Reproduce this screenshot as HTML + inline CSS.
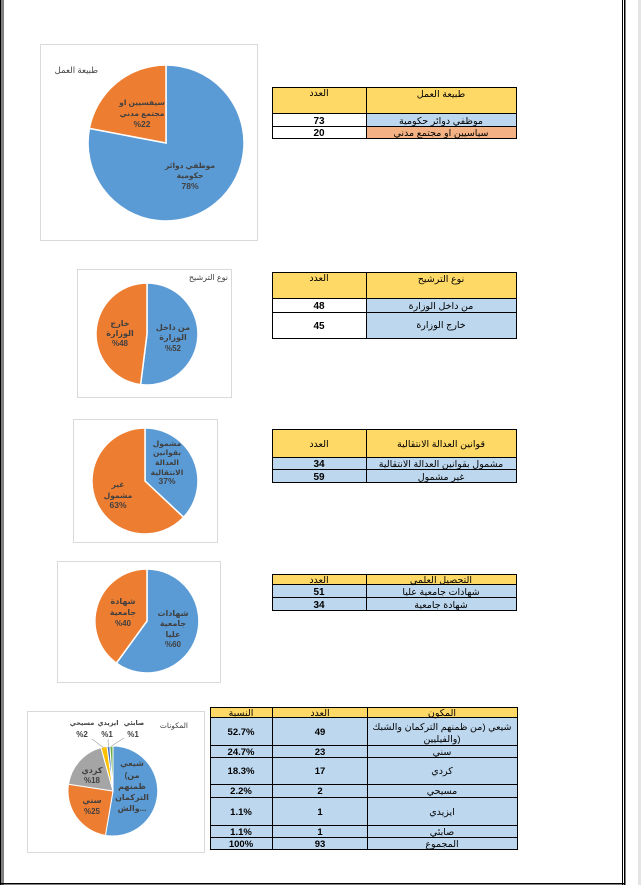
<!DOCTYPE html>
<html><head><meta charset="utf-8">
<style>
html,body{margin:0;padding:0;background:#fff;width:642px;height:885px;overflow:hidden}
svg{display:block}
.t{font-family:"Liberation Sans","DejaVu Sans",sans-serif;}
</style></head>
<body>
<svg width="642" height="885" viewBox="0 0 642 885" xmlns="http://www.w3.org/2000/svg" class="t">
<!-- page borders -->
<rect x="0" y="0" width="1.5" height="885" fill="#000"/>
<rect x="2.5" y="0" width="1" height="885" fill="#000"/>
<rect x="622" y="0" width="1" height="885" fill="#000"/>
<rect x="624" y="0" width="1.5" height="885" fill="#000"/>
<rect x="0" y="883" width="625" height="1.5" fill="#000"/>
<rect x="638" y="0" width="3" height="885" fill="#e4e4e4"/>

<!-- ===== Chart 1 ===== -->
<rect x="40.5" y="44.5" width="217" height="196" fill="#fff" stroke="#d9d9d9"/>
<text x="98" y="73" font-size="8.5" fill="#404040" text-anchor="end">طبيعة العمل</text>
<path d="M166,143 L166,65 A78,78 0 1 1 89.4,128.4 Z" fill="#5B9BD5" stroke="#fff" stroke-width="1.5"/>
<path d="M166,143 L89.4,128.4 A78,78 0 0 1 166,65 Z" fill="#ED7D31" stroke="#fff" stroke-width="1.5"/>
<g font-size="7.5" font-weight="bold" fill="#404040" text-anchor="middle">
<text x="142" y="105">سيفسيين او</text>
<text x="142" y="116">مجتمع مدني</text>
<text x="142" y="127" font-size="8.5">%22</text>
<text x="190" y="168">موظفي دوائر</text>
<text x="190" y="178">حكومية</text>
<text x="190" y="189" font-size="8.5">78%</text>
</g>

<!-- Table 1 -->
<g stroke="#000" stroke-width="1">
<rect x="272.5" y="87.5" width="244" height="26" fill="#FFD966"/>
<rect x="272.5" y="113.5" width="94" height="13" fill="#fff"/>
<rect x="366.5" y="113.5" width="150" height="13" fill="#BDD7EE"/>
<rect x="272.5" y="126.5" width="94" height="12" fill="#fff"/>
<rect x="366.5" y="126.5" width="150" height="12" fill="#F4B183"/>
<line x1="366.5" y1="87.5" x2="366.5" y2="113.5"/>
</g>
<g font-size="9.5" fill="#000" text-anchor="middle">
<text x="319" y="96">العدد</text>
<text x="441" y="97">طبيعة العمل</text>
<text x="441" y="124">موظفي دوائر حكومية</text>
<text x="441" y="136">سياسيين او مجتمع مدني</text>
</g>
<g font-size="10" font-weight="bold" fill="#000" text-anchor="middle">
<text x="319" y="124">73</text>
<text x="319" y="136">20</text>
</g>

<!-- ===== Chart 2 ===== -->
<rect x="77.5" y="269.5" width="154" height="128" fill="#fff" stroke="#d9d9d9"/>
<text x="228" y="280" font-size="8" fill="#404040" text-anchor="end">نوع الترشيح</text>
<path d="M147,334 L147,283 A51,51 0 1 1 140.6,384.6 Z" fill="#5B9BD5" stroke="#fff" stroke-width="1.5"/>
<path d="M147,334 L140.6,384.6 A51,51 0 0 1 147,283 Z" fill="#ED7D31" stroke="#fff" stroke-width="1.5"/>
<g font-size="8" font-weight="bold" fill="#404040" text-anchor="middle">
<text x="120" y="326">خارج</text>
<text x="120" y="336">الوزارة</text>
<text x="120" y="346">%48</text>
<text x="173" y="330">من داخل</text>
<text x="173" y="340">الوزارة</text>
<text x="173" y="351">%52</text>
</g>

<!-- Table 2 -->
<g stroke="#000" stroke-width="1">
<rect x="272.5" y="272.5" width="244" height="26" fill="#FFD966"/>
<rect x="272.5" y="298.5" width="94" height="14" fill="#fff"/>
<rect x="366.5" y="298.5" width="150" height="14" fill="#BDD7EE"/>
<rect x="272.5" y="312.5" width="94" height="26" fill="#fff"/>
<rect x="366.5" y="312.5" width="150" height="26" fill="#BDD7EE"/>
<line x1="366.5" y1="272.5" x2="366.5" y2="298.5"/>
</g>
<g font-size="9.5" fill="#000" text-anchor="middle">
<text x="319" y="281">العدد</text>
<text x="441" y="282">نوع الترشيح</text>
<text x="441" y="309">من داخل الوزارة</text>
<text x="441" y="328">خارج الوزارة</text>
</g>
<g font-size="10" font-weight="bold" fill="#000" text-anchor="middle">
<text x="319" y="309">48</text>
<text x="319" y="329">45</text>
</g>

<!-- ===== Chart 3 ===== -->
<rect x="73.5" y="419.5" width="144" height="123" fill="#fff" stroke="#d9d9d9"/>
<path d="M145,481 L145,428 A53,53 0 0 1 183.6,517.3 Z" fill="#5B9BD5" stroke="#fff" stroke-width="1.5"/>
<path d="M145,481 L183.6,517.3 A53,53 0 1 1 145,428 Z" fill="#ED7D31" stroke="#fff" stroke-width="1.5"/>
<g font-size="7.5" font-weight="bold" fill="#404040" text-anchor="middle">
<text x="167" y="446">مشمول</text>
<text x="167" y="455">بقوانين</text>
<text x="167" y="465">العدالة</text>
<text x="167" y="475">الانتقالية</text>
<text x="167" y="484" font-size="8.5">37%</text>
<text x="118" y="487">غير</text>
<text x="118" y="498">مشمول</text>
<text x="118" y="508" font-size="8.5">63%</text>
</g>

<!-- Table 3 -->
<g stroke="#000" stroke-width="1">
<rect x="272.5" y="429.5" width="244" height="28" fill="#FFD966"/>
<rect x="272.5" y="457.5" width="244" height="12" fill="#BDD7EE"/>
<rect x="272.5" y="469.5" width="244" height="13" fill="#BDD7EE"/>
<line x1="366.5" y1="429.5" x2="366.5" y2="482.5"/>
</g>
<g font-size="9.5" fill="#000" text-anchor="middle">
<text x="319" y="447">العدد</text>
<text x="441" y="447">قوانين العدالة الانتقالية</text>
<text x="441" y="467">مشمول بقوانين العدالة الانتقالية</text>
<text x="441" y="480">غير مشمول</text>
</g>
<g font-size="10" font-weight="bold" fill="#000" text-anchor="middle">
<text x="319" y="467">34</text>
<text x="319" y="480">59</text>
</g>

<!-- ===== Chart 4 ===== -->
<rect x="57.5" y="561.5" width="163" height="121" fill="#fff" stroke="#d9d9d9"/>
<path d="M147,621 L147,569 A52,52 0 1 1 116.4,663.1 Z" fill="#5B9BD5" stroke="#fff" stroke-width="1.5"/>
<path d="M147,621 L116.4,663.1 A52,52 0 0 1 147,569 Z" fill="#ED7D31" stroke="#fff" stroke-width="1.5"/>
<g font-size="8" font-weight="bold" fill="#404040" text-anchor="middle">
<text x="123" y="604">شهادة</text>
<text x="123" y="615">جامعية</text>
<text x="123" y="626">%40</text>
<text x="173" y="616">شهادات</text>
<text x="173" y="626">جامعية</text>
<text x="173" y="637">عليا</text>
<text x="173" y="647">%60</text>
</g>

<!-- Table 4 -->
<g stroke="#000" stroke-width="1">
<rect x="272.5" y="574.5" width="244" height="10" fill="#FFD966"/>
<rect x="272.5" y="584.5" width="244" height="13" fill="#BDD7EE"/>
<rect x="272.5" y="597.5" width="244" height="13" fill="#BDD7EE"/>
<line x1="366.5" y1="574.5" x2="366.5" y2="610.5"/>
</g>
<g font-size="9.5" fill="#000" text-anchor="middle">
<text x="319" y="583">العدد</text>
<text x="441" y="583">التحصيل العلمي</text>
<text x="441" y="595">شهادات جامعية عليا</text>
<text x="441" y="608">شهادة جامعية</text>
</g>
<g font-size="10" font-weight="bold" fill="#000" text-anchor="middle">
<text x="319" y="595">51</text>
<text x="319" y="608">34</text>
</g>

<!-- ===== Chart 5 ===== -->
<rect x="27.5" y="711.5" width="177" height="141" fill="#fff" stroke="#d9d9d9"/>
<text x="188" y="728" font-size="7.5" fill="#404040" text-anchor="end">المكونات</text>
<g stroke="#fff" stroke-width="1">
<path d="M113,791 L113,746 A45,45 0 1 1 105.4,835.4 Z" fill="#5B9BD5"/>
<path d="M113,791 L105.4,835.4 A45,45 0 0 1 68.5,784.2 Z" fill="#ED7D31"/>
<path d="M113,791 L68.5,784.2 A45,45 0 0 1 101.0,747.6 Z" fill="#A5A5A5"/>
<path d="M113,791 L101.0,747.6 A45,45 0 0 1 107.0,746.4 Z" fill="#FFC000"/>
<path d="M113,791 L107.0,746.4 A45,45 0 0 1 109.9,746.1 Z" fill="#4472C4"/>
<path d="M113,791 L109.9,746.1 A45,45 0 0 1 113,746 Z" fill="#70AD47"/>
</g>
<g stroke="#a6a6a6" stroke-width="0.7" fill="none">
<line x1="92" y1="739" x2="104" y2="748"/>
<line x1="108" y1="739" x2="108.5" y2="746"/>
<line x1="124" y1="738" x2="111.5" y2="746"/>
</g>
<g font-size="6.5" font-weight="bold" fill="#404040" text-anchor="middle">
<text x="134" y="725">صابئي</text>
<text x="108" y="725">ايزيدي</text>
<text x="82" y="725">مسيحي</text>
</g>
<g font-size="8" font-weight="bold" fill="#404040" text-anchor="middle">
<text x="133" y="737">%1</text>
<text x="107" y="737">%1</text>
<text x="82" y="737">%2</text>
<text x="132" y="766">شيعي</text>
<text x="132" y="778">(من</text>
<text x="132" y="789">ظمنهم</text>
<text x="132" y="800">التركمان</text>
<text x="132" y="811">والش...</text>
<text x="92" y="773">كردي</text>
<text x="92" y="783">%18</text>
<text x="92" y="803">سني</text>
<text x="92" y="814">%25</text>
</g>

<!-- Table 5 -->
<g stroke="#000" stroke-width="1">
<rect x="210.5" y="707.5" width="307" height="10" fill="#FFD966"/>
<rect x="210.5" y="717.5" width="307" height="28" fill="#BDD7EE"/>
<rect x="210.5" y="745.5" width="307" height="12" fill="#BDD7EE"/>
<rect x="210.5" y="757.5" width="307" height="27" fill="#BDD7EE"/>
<rect x="210.5" y="784.5" width="307" height="13" fill="#BDD7EE"/>
<rect x="210.5" y="797.5" width="307" height="28" fill="#BDD7EE"/>
<rect x="210.5" y="825.5" width="307" height="12" fill="#BDD7EE"/>
<rect x="210.5" y="837.5" width="307" height="12" fill="#BDD7EE"/>
<line x1="272.5" y1="707.5" x2="272.5" y2="849.5"/>
<line x1="367.5" y1="707.5" x2="367.5" y2="849.5"/>
</g>
<g font-size="9.5" fill="#000" text-anchor="middle">
<text x="241" y="716">النسبة</text>
<text x="320" y="716">العدد</text>
<text x="442" y="716">المكون</text>
<text x="442" y="730">شيعي (من ظمنهم التركمان والشبك</text>
<text x="442" y="742">والفيليين)</text>
<text x="442" y="755">سني</text>
<text x="442" y="774">كردي</text>
<text x="442" y="794">مسيحي</text>
<text x="442" y="815">ايزيدي</text>
<text x="442" y="835">صابئي</text>
<text x="442" y="847">المجموع</text>
</g>
<g font-size="9.5" font-weight="bold" fill="#000" text-anchor="middle">
<text x="241" y="735">52.7%</text>
<text x="320" y="735">49</text>
<text x="241" y="755">24.7%</text>
<text x="320" y="755">23</text>
<text x="241" y="774">18.3%</text>
<text x="320" y="774">17</text>
<text x="241" y="794">2.2%</text>
<text x="320" y="794">2</text>
<text x="241" y="815">1.1%</text>
<text x="320" y="815">1</text>
<text x="241" y="835">1.1%</text>
<text x="320" y="835">1</text>
<text x="241" y="847">100%</text>
<text x="320" y="847">93</text>
</g>
</svg>
</body></html>
